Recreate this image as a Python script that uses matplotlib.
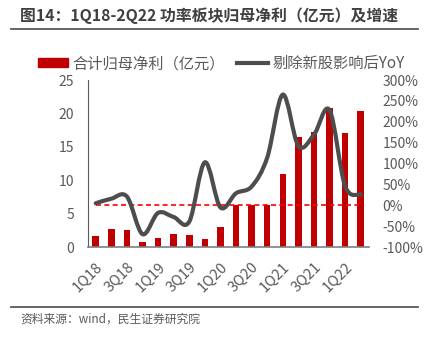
import numpy as np
import matplotlib
matplotlib.use("Agg")
import matplotlib.pyplot as plt
from matplotlib.path import Path
from matplotlib.patches import PathPatch, Patch
from matplotlib.lines import Line2D
from matplotlib.ticker import FuncFormatter

plt.rcParams['font.family'] = ['Noto Sans CJK SC', 'DejaVu Sans']

quarters = ['1Q18', '2Q18', '3Q18', '4Q18', '1Q19', '2Q19', '3Q19', '4Q19', '1Q20',
            '2Q20', '3Q20', '4Q20', '1Q21', '2Q21', '3Q21', '4Q21', '1Q22', '2Q22']
profit = [1.7, 2.7, 2.5, 0.7, 1.3, 2.0, 1.75, 1.25, 2.95,
          6.3, 6.3, 6.3, 10.9, 16.4, 17.2, 20.8, 17.1, 20.4]
yoy = [5, 16, 21, -69, -18, -28, -39, 103, -5, 29, 45, 114, 265, 142, 169, 228, 46, 26]
tick_labels = quarters[::2]

BAR_RED = '#C00000'
LINE_GRAY = '#4D4D4D'
TEXT_GRAY = '#595959'


def smooth_path(xs, ys):
    # excel-style smoothed line: cubic bezier through every point
    xs = np.asarray(xs, float)
    ys = np.asarray(ys, float)
    pts = np.column_stack([xs, ys])
    verts = [pts[0]]
    codes = [Path.MOVETO]
    n = len(pts)
    for i in range(n - 1):
        p0 = pts[max(i - 1, 0)]
        p1 = pts[i]
        p2 = pts[i + 1]
        p3 = pts[min(i + 2, n - 1)]
        c1 = p1 + (p2 - p0) / 6.0
        c2 = p2 - (p3 - p1) / 6.0
        verts += [c1, c2, p2]
        codes += [Path.CURVE4] * 3
    return Path(verts, codes)


fig = plt.figure(figsize=(4.27, 3.39), dpi=100)
ax = fig.add_axes([0.206, 0.271, 0.657, 0.493])
ax2 = ax.twinx()

x = np.arange(len(quarters))
ax.bar(x, profit, width=0.42, color=BAR_RED, zorder=2)
ax.set_xlim(-0.5, len(quarters) - 0.5)
ax.set_ylim(0, 25)
ax.set_yticks(range(0, 26, 5))
ax.set_xticks(x[::2])
ax.set_xticklabels(tick_labels, rotation=45, ha='right', rotation_mode='anchor',
                   fontsize=10.5, color=TEXT_GRAY)
ax.tick_params(axis='x', length=0, pad=9)
ax.tick_params(axis='y', length=0, pad=10, labelsize=10, labelcolor=TEXT_GRAY)

ax2.set_ylim(-100, 300)
ax2.set_yticks(range(-100, 301, 50))
ax2.yaxis.set_major_formatter(FuncFormatter(lambda v, p: f'{int(v)}%'))
ax2.tick_params(axis='y', length=0, pad=10, labelsize=10, labelcolor=TEXT_GRAY)
ax2.plot([x[0], x[-1]], [0, 0], color='#FF0000', lw=1.2, ls=(0, (3, 2)), zorder=3)
ax2.add_patch(PathPatch(smooth_path(x, yoy), fill=False, edgecolor=LINE_GRAY,
                        lw=3.0, capstyle='round', joinstyle='round', zorder=4))

for a in (ax, ax2):
    for side in ('top', 'right'):
        a.spines[side].set_visible(False)
ax2.spines['left'].set_visible(False)
ax2.spines['bottom'].set_visible(False)
ax.spines['left'].set_color('#595959')
ax.spines['bottom'].set_color('#7F7F7F')
ax.spines['bottom'].set_linewidth(1.2)

handles = [Patch(color=BAR_RED), Line2D([], [], color=LINE_GRAY, lw=3)]
fig.legend(handles, ['合计归母净利（亿元）', '剔除新股影响后YoY'], loc='center',
           bbox_to_anchor=(0.518, 0.812), ncol=2, frameon=False, fontsize=11,
           handlelength=2.0, handleheight=0.55, handletextpad=0.3, columnspacing=0.8,
           labelcolor=TEXT_GRAY)

fig.text(0.047, 0.955, '图14：1Q18-2Q22 功率板块归母净利（亿元）及增速', fontsize=11.4,
         fontweight='bold', color='#404040', va='center', ha='left')
fig.add_artist(Line2D([0.026, 0.979], [0.914, 0.914], color='#595959', lw=1.3))
fig.add_artist(Line2D([0.026, 0.979], [0.094, 0.094], color='#595959', lw=1.3))
fig.text(0.047, 0.058, '资料来源：wind，民生证券研究院', fontsize=8.5, color=TEXT_GRAY,
         va='center', ha='left')

fig.savefig('out.png', dpi=100)
